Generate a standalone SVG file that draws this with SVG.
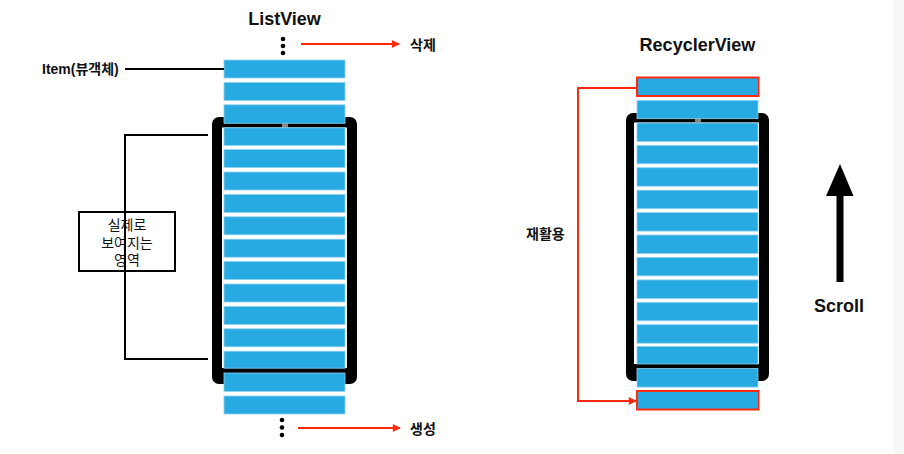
<svg xmlns="http://www.w3.org/2000/svg" width="904" height="454" viewBox="0 0 904 454">
<style>
.item{fill:#27aae1;stroke:#8fd3f0;stroke-width:0.8}
.frame{fill:#000}
.inner{fill:#fff}
.t{font-family:"Liberation Sans","Noto Sans CJK KR",sans-serif;fill:#111}
.b{font-weight:bold}
.red{stroke:#ff2a10;stroke-width:2;fill:none}
.blk{stroke:#000;stroke-width:2;fill:none}
.redbox{fill:none;stroke:#ff2a10;stroke-width:2}
</style>
<defs>
<marker id="ra" viewBox="0 0 10 10" refX="9" refY="5" markerWidth="9" markerHeight="8" markerUnits="userSpaceOnUse" orient="auto">
<path d="M0,0 L10,5 L0,10 z" fill="#ff2a10"/>
</marker>
</defs>
<rect x="0" y="0" width="904" height="454" fill="#fff"/>
<rect x="893" y="0" width="11" height="454" fill="#f8f8f8"/>

<!-- ListView -->
<g id="listview">
<text class="t b" x="284.5" y="25" font-size="18" text-anchor="middle">ListView</text>
<g id="lv-frame">
<rect class="frame" x="212" y="117" width="145" height="267" rx="7"/>
<rect class="inner" x="222" y="127.5" width="125" height="240.5"/>
<rect x="282" y="123.5" width="6" height="4" fill="#888"/>
</g>
<g id="lv-items">
<rect class="item" x="224" y="60" width="121" height="18"/>
<rect class="item" x="224" y="82.4" width="121" height="18"/>
<rect class="item" x="224" y="104.8" width="121" height="18.5"/>
<rect class="item" x="224" y="127.8" width="121" height="17.6"/>
<rect class="item" x="224" y="149.6" width="121" height="18"/>
<rect class="item" x="224" y="172" width="121" height="18"/>
<rect class="item" x="224" y="194.4" width="121" height="18"/>
<rect class="item" x="224" y="216.8" width="121" height="18"/>
<rect class="item" x="224" y="239.2" width="121" height="18"/>
<rect class="item" x="224" y="261.6" width="121" height="18"/>
<rect class="item" x="224" y="284" width="121" height="18"/>
<rect class="item" x="224" y="306.4" width="121" height="18"/>
<rect class="item" x="224" y="328.8" width="121" height="18"/>
<rect class="item" x="224" y="351.2" width="121" height="17"/>
<rect class="item" x="224" y="373" width="121" height="18.5"/>
<rect class="item" x="224" y="396" width="121" height="18"/>
</g>
<g id="lv-dots-top" fill="#000">
<circle cx="283" cy="39" r="2.3"/><circle cx="283" cy="46" r="2.3"/><circle cx="283" cy="53" r="2.3"/>
</g>
<g id="lv-dots-bottom" fill="#000">
<circle cx="282" cy="420" r="2.3"/><circle cx="282" cy="427.5" r="2.3"/><circle cx="282" cy="435" r="2.3"/>
</g>
</g>

<g id="label-item">
<text class="t b" x="42" y="74" font-size="14">Item(뷰객체)</text>
</g>
<g id="label-delete"><text class="t b" x="410" y="50" font-size="14">삭제</text></g>
<g id="label-create"><text class="t b" x="410" y="434" font-size="14">생성</text></g>

<g id="visible-area">
<rect x="79" y="212" width="96" height="59" fill="#fff" stroke="#000" stroke-width="2"/>
<text class="t" x="127" y="230" font-size="14" text-anchor="middle">실제로</text>
<text class="t" x="127" y="248" font-size="14" text-anchor="middle">보여지는</text>
<text class="t" x="127" y="265" font-size="14" text-anchor="middle">영역</text>
</g>

<!-- RecyclerView -->
<g id="recyclerview">
<text class="t b" x="697.5" y="51" font-size="18" text-anchor="middle">RecyclerView</text>
<g id="rv-frame">
<rect class="frame" x="626" y="113" width="143" height="268" rx="7"/>
<rect class="inner" x="634" y="122.5" width="125" height="241.5"/>
<rect x="695" y="118.7" width="6" height="3.8" fill="#888"/>
</g>
<g id="rv-items">
<rect class="item" x="637" y="77.5" width="121" height="18.5"/>
<rect class="item" x="637" y="100.4" width="121" height="18.3"/>
<rect class="item" x="637" y="123" width="121" height="18.4"/>
<rect class="item" x="637" y="145.3" width="121" height="18.5"/>
<rect class="item" x="637" y="167.7" width="121" height="18.5"/>
<rect class="item" x="637" y="190.2" width="121" height="18.5"/>
<rect class="item" x="637" y="212.6" width="121" height="18.5"/>
<rect class="item" x="637" y="235" width="121" height="18.5"/>
<rect class="item" x="637" y="257.4" width="121" height="18.5"/>
<rect class="item" x="637" y="279.9" width="121" height="18.5"/>
<rect class="item" x="637" y="302.3" width="121" height="18.5"/>
<rect class="item" x="637" y="324.7" width="121" height="18.5"/>
<rect class="item" x="637" y="346.4" width="121" height="17.6"/>
<rect class="item" x="637" y="368.6" width="121" height="18.5"/>
<rect class="item" x="637" y="391" width="121" height="18.5"/>
</g>
<rect class="redbox" x="637" y="77.5" width="121.5" height="18.5"/>
<rect class="redbox" x="637" y="391" width="121.5" height="18.5"/>
</g>

<g id="label-recycle"><text class="t b" x="526" y="239" font-size="14">재활용</text></g>

<g id="scroll">
<rect x="836.5" y="194" width="7" height="88" fill="#000"/>
<path d="M840,164 L853.5,196 L826,196 z" fill="#000"/>
<text class="t b" x="839" y="311.5" font-size="18" text-anchor="middle">Scroll</text>
</g>

<g id="connectors">
<line class="blk" x1="125" y1="69" x2="224" y2="69"/>
<path class="blk" d="M208,135 H125 V359 H208"/>
<line class="red" x1="301" y1="44" x2="399" y2="44" marker-end="url(#ra)"/>
<line class="red" x1="298" y1="428" x2="400" y2="428" marker-end="url(#ra)"/>
<path class="red" d="M637,88 H578 V401 H636" marker-end="url(#ra)"/>
</g>
</svg>
